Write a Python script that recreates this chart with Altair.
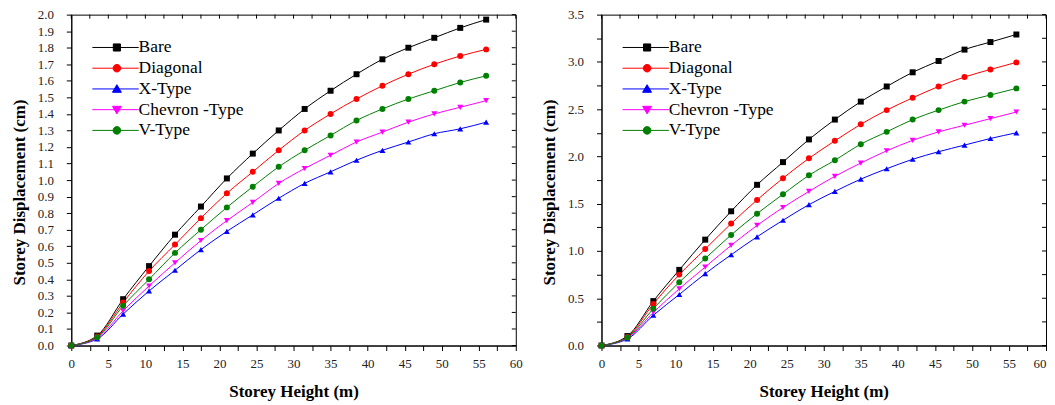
import altair as alt
import pandas as pd

heights = [0, 3.5, 7, 10.5, 14, 17.5, 21, 24.5, 28, 31.5, 35, 38.5, 42, 45.5, 49, 52.5, 56]
series_names = ["Bare", "Diagonal", "X-Type", "Chevron -Type", "V-Type"]
series_colors = ["#000000", "#ff0000", "#0000ff", "#ff00ff", "#008000"]
series_markers = ["square", "circle", "triangle-up", "triangle-down", "circle"]

# left panel
left_bare = [0, 0.06, 0.28, 0.48, 0.67, 0.84, 1.01, 1.16, 1.30, 1.43, 1.54, 1.64, 1.73, 1.80, 1.86, 1.92, 1.97]
left_diagonal = [0, 0.055, 0.26, 0.45, 0.61, 0.77, 0.92, 1.05, 1.18, 1.30, 1.40, 1.49, 1.57, 1.64, 1.70, 1.75, 1.79]
left_xtype = [0, 0.04, 0.19, 0.33, 0.455, 0.58, 0.69, 0.79, 0.89, 0.98, 1.05, 1.12, 1.18, 1.23, 1.28, 1.31, 1.35]
left_chevron = [0, 0.045, 0.21, 0.36, 0.50, 0.635, 0.755, 0.865, 0.98, 1.07, 1.15, 1.23, 1.29, 1.35, 1.40, 1.44, 1.48]
left_vtype = [0, 0.05, 0.24, 0.40, 0.56, 0.70, 0.835, 0.96, 1.08, 1.18, 1.27, 1.36, 1.43, 1.49, 1.54, 1.59, 1.63]

# right panel
right_bare = [0, 0.10, 0.47, 0.80, 1.12, 1.42, 1.70, 1.94, 2.18, 2.39, 2.58, 2.74, 2.89, 3.01, 3.13, 3.21, 3.29]
right_diagonal = [0, 0.09, 0.44, 0.75, 1.02, 1.29, 1.54, 1.77, 1.98, 2.165, 2.34, 2.49, 2.62, 2.74, 2.84, 2.92, 2.995]
right_xtype = [0, 0.07, 0.32, 0.54, 0.76, 0.96, 1.15, 1.325, 1.49, 1.63, 1.76, 1.87, 1.97, 2.05, 2.12, 2.19, 2.25]
right_chevron = [0, 0.08, 0.35, 0.60, 0.83, 1.06, 1.27, 1.46, 1.63, 1.79, 1.93, 2.06, 2.17, 2.26, 2.33, 2.40, 2.47]
right_vtype = [0, 0.085, 0.39, 0.67, 0.92, 1.17, 1.395, 1.60, 1.80, 1.96, 2.13, 2.26, 2.39, 2.49, 2.58, 2.65, 2.72]

x_ticks = [i * 2.5 for i in range(25)]
left_y_ticks = [round(i * 0.1, 1) for i in range(21)]
right_y_ticks = [i * 0.25 for i in range(15)]

# legend symbols: a short line through the marker
legend_paths = [
    "M-5.5,0H4.9M-0.8,-0.8H0.8V0.8H-0.8Z",
    "M-5.5,0H4.9M0.85,0A0.85,0.85,0,1,1,-0.85,0A0.85,0.85,0,1,1,0.85,0Z",
    "M-5.5,0H4.9M0,-0.95L1,0.75H-1Z",
    "M-5.5,0H4.9M0,0.95L1,-0.75H-1Z",
    "M-5.5,0H4.9M0.85,0A0.85,0.85,0,1,1,-0.85,0A0.85,0.85,0,1,1,0.85,0Z",
]

W, H = 446, 332
FONT = "Liberation Serif"


def build_df(cols):
    rows = []
    for name, col, mk, vals in zip(series_names, series_colors, series_markers, cols):
        for h, v in zip(heights, vals):
            rows.append({"height": h, "disp": v, "series": name, "col": col, "marker": mk})
    return pd.DataFrame(rows)


def panel(df, ymax, yticks, ylabel_expr, last_label_align):
    xs = alt.Scale(domain=[0, 60], nice=False, zero=False)
    ys = alt.Scale(domain=[0, ymax], nice=False, zero=False)
    base = alt.Chart(df)
    x_main = alt.X("height:Q", scale=xs, axis=alt.Axis(
        values=x_ticks, format="d", labelFlush=False,
        labelAlign={"condition": {"test": "datum.value == 60", "value": last_label_align},
                    "value": "center"},
        labelExpr="datum.value % 5 == 0 ? datum.label : ''",
        title="Storey Height (m)", tickSize=5, labelPadding=7, titlePadding=13))
    y_main = alt.Y("disp:Q", scale=ys, axis=alt.Axis(
        values=yticks, format=".1f", labelExpr=ylabel_expr, labelFlush=False,
        title="Storey Displacement (cm)", titleY=178,
        tickSize=5, labelPadding=13, titlePadding=9))
    lines = base.mark_line(strokeWidth=1, interpolate="monotone").encode(
        x=x_main, y=y_main,
        color=alt.Color("col:N", scale=None),
        detail="series:N",
    )
    points = base.mark_point(filled=True, size=36, opacity=1).encode(
        x=alt.X("height:Q", scale=xs, axis=None),
        y=alt.Y("disp:Q", scale=ys, axis=None),
        color=alt.Color("col:N", scale=None),
        shape=alt.Shape("marker:N", scale=None),
    )
    # inward ticks along the top and right edges of the frame, at the axis tick values
    top_ticks = alt.Chart(pd.DataFrame({"v": x_ticks})).mark_rule(color="black", strokeWidth=1).encode(
        x=alt.X("v:Q", scale=xs, axis=None),
        y=alt.value(0), y2=alt.value(4),
    )
    right_ticks = alt.Chart(pd.DataFrame({"v": yticks})).mark_rule(color="black", strokeWidth=1).encode(
        y=alt.Y("v:Q", scale=ys, axis=None),
        x=alt.value(W - 4), x2=alt.value(W),
    )
    leg = alt.Legend(orient="none", legendX=37, legendY=24.2, title=None, padding=0,
                     symbolSize=80, symbolStrokeWidth=1, symbolOpacity=1,
                     labelOffset=13, labelFont=FONT, labelFontSize=17.5,
                     labelColor="black", rowPadding=1.8, labelLimit=300)
    legend_layer = base.mark_point(filled=True, opacity=0).encode(
        x=alt.X("height:Q", scale=xs, axis=None),
        y=alt.Y("disp:Q", scale=ys, axis=None),
        color=alt.Color("series:N", scale=alt.Scale(domain=series_names, range=series_colors), legend=leg),
        stroke=alt.Stroke("series:N", scale=alt.Scale(domain=series_names, range=series_colors), legend=leg),
        shape=alt.Shape("series:N", scale=alt.Scale(domain=series_names, range=legend_paths), legend=leg),
    )
    return alt.layer(lines, points, top_ticks, right_ticks, legend_layer).resolve_scale(
        x="independent", y="independent").properties(width=W, height=H)


left_df = build_df([left_bare, left_diagonal, left_xtype, left_chevron, left_vtype])
right_df = build_df([right_bare, right_diagonal, right_xtype, right_chevron, right_vtype])

left = panel(left_df, 2.0, left_y_ticks, "datum.label", "center")
right = panel(right_df, 3.5, right_y_ticks, "(datum.value * 2) % 1 == 0 ? datum.label : ''", "right")

chart = alt.hconcat(left, right, spacing=17).resolve_scale(
    color="independent", shape="independent", stroke="independent"
).resolve_legend(
    color="independent", shape="independent", stroke="independent"
).properties(
    padding={"left": 1.5, "top": -1, "right": 0, "bottom": 0}
).configure_view(
    stroke="black", strokeWidth=1
).configure_axis(
    labelFont=FONT, labelFontSize=13, labelColor="#222",
    titleFont=FONT, titleFontSize=17, titleFontWeight="bold", titleColor="black",
    tickColor="black", domainColor="black", tickWidth=1, domainWidth=1, grid=False,
)

chart.save("out.html", embed_options={"renderer": "svg", "actions": False})
